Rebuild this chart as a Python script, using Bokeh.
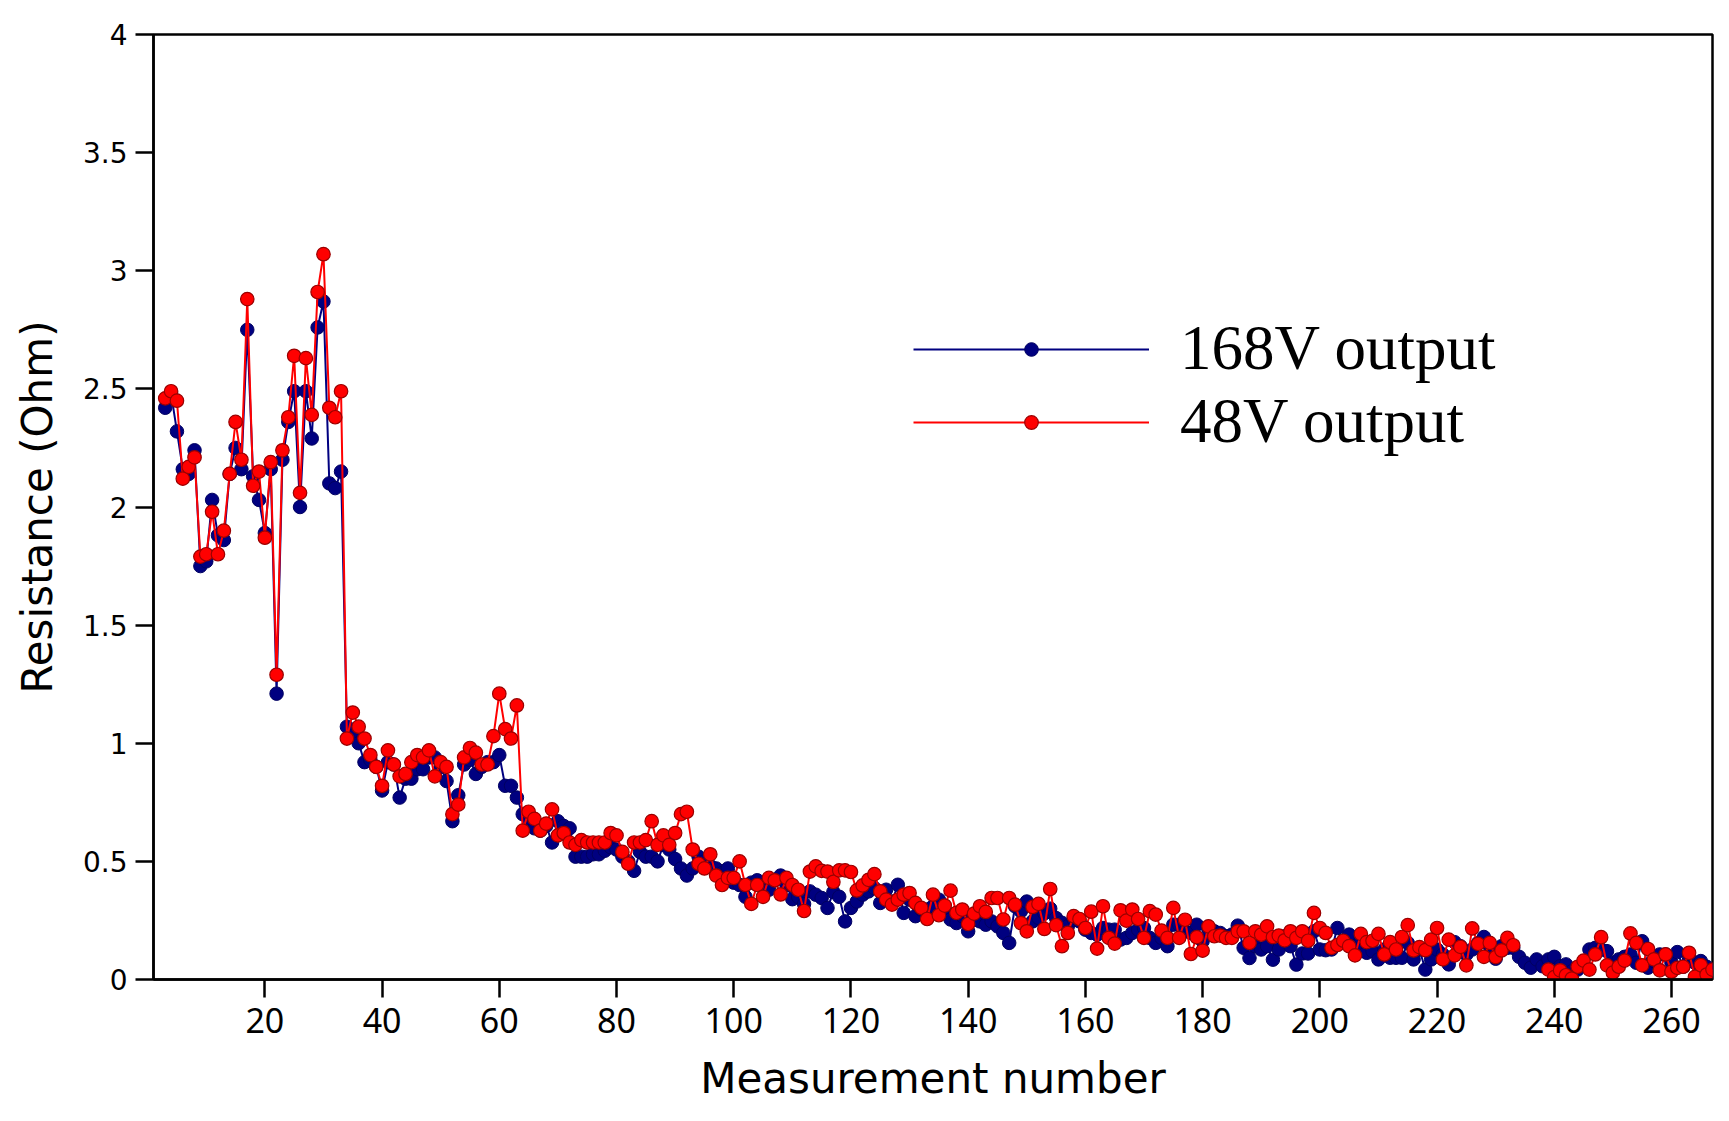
from bokeh.plotting import figure
from bokeh.models import (ColumnDataSource, Legend, LegendItem, FixedTicker,
                          CustomJSTickFormatter, Range1d)
from bokeh.embed import file_html
from bokeh.resources import INLINE

measurement = list(range(3, 268))

v168 = [
    # 3-33
    2.42, 2.48, 2.32, 2.16, 2.14, 2.24, 1.75, 1.77, 2.03, 1.88, 1.86, 2.14, 2.25, 2.16, 2.75, 2.13,
    2.03, 1.89, 2.16, 1.21, 2.20, 2.36, 2.49, 2.00, 2.49, 2.29, 2.76, 2.87, 2.10, 2.08, 2.15,
    # 34-63
    1.07, 1.03, 1.00, 0.92, 0.93, 0.90, 0.80, 0.92, 0.91, 0.77, 0.85, 0.85, 0.89, 0.89, 0.94,
    0.94, 0.90, 0.84, 0.67, 0.78, 0.91, 0.93, 0.87, 0.90, 0.92, 0.92, 0.95, 0.82, 0.82, 0.77,
    # 64-71
    0.70, 0.68, 0.64, 0.63, 0.65, 0.58, 0.67, 0.65,
    # 72-112
    0.64, 0.52, 0.52, 0.52, 0.53, 0.53, 0.545, 0.56, 0.55, 0.52, 0.50, 0.46, 0.54, 0.52, 0.52,
    0.50, 0.57, 0.55, 0.51, 0.47, 0.44, 0.47, 0.52, 0.50, 0.48, 0.47, 0.45, 0.47, 0.41, 0.40,
    0.35, 0.41, 0.42, 0.40, 0.38, 0.42, 0.44, 0.40, 0.34, 0.35, 0.32,
    # 113-155
    0.373, 0.359, 0.345, 0.303, 0.37, 0.35, 0.246, 0.303, 0.33, 0.359, 0.373, 0.387, 0.324,
    0.38, 0.33, 0.401, 0.282, 0.338, 0.268, 0.296, 0.296, 0.31, 0.338, 0.296, 0.254, 0.239,
    0.268, 0.204, 0.254, 0.246, 0.232, 0.246, 0.225, 0.197, 0.155, 0.31, 0.289, 0.33, 0.246,
    0.261, 0.28, 0.30, 0.26,
    # 156-196
    0.24, 0.225, 0.253, 0.246, 0.211, 0.197, 0.19, 0.218, 0.211, 0.211, 0.169, 0.176, 0.197,
    0.211, 0.218, 0.176, 0.155, 0.176, 0.141, 0.232, 0.232, 0.204, 0.197, 0.232, 0.162, 0.211,
    0.204, 0.197, 0.183, 0.19, 0.228, 0.134, 0.091, 0.141, 0.127, 0.141, 0.084, 0.127, 0.183,
    0.141, 0.063,
    # 197-233
    0.11, 0.11, 0.204, 0.127, 0.124, 0.127, 0.218, 0.16, 0.19, 0.141, 0.176, 0.113, 0.12,
    0.085, 0.127, 0.092, 0.092, 0.092, 0.155, 0.085, 0.127, 0.042, 0.085, 0.127, 0.106, 0.064,
    0.158, 0.141, 0.106, 0.127, 0.155, 0.18, 0.141, 0.088, 0.141, 0.134, 0.134,
    # 234-238
    0.096, 0.071, 0.05, 0.085, 0.056,
    # 239-267
    0.085, 0.096, 0.056, 0.064, 0.035, 0.042, 0.064, 0.127, 0.134, 0.127, 0.12, 0.071, 0.085,
    0.096, 0.106, 0.071, 0.162, 0.05, 0.078, 0.106, 0.106, 0.071, 0.116, 0.054, 0.092, 0.071,
    0.078, 0.054, 0.035,
]

v48 = [
    # 3-33
    2.46, 2.49, 2.45, 2.12, 2.17, 2.21, 1.79, 1.80, 1.98, 1.80, 1.90, 2.14, 2.36, 2.20, 2.88, 2.09,
    2.15, 1.87, 2.19, 1.29, 2.24, 2.38, 2.64, 2.06, 2.63, 2.39, 2.91, 3.07, 2.42, 2.38, 2.49,
    # 34-63
    1.02, 1.13, 1.07, 1.02, 0.95, 0.90, 0.82, 0.97, 0.91, 0.86, 0.87, 0.92, 0.95, 0.94, 0.97,
    0.86, 0.92, 0.90, 0.70, 0.74, 0.94, 0.98, 0.96, 0.91, 0.91, 1.03, 1.21, 1.06, 1.02, 1.16,
    # 64-71
    0.63, 0.71, 0.68, 0.63, 0.66, 0.72, 0.61, 0.62,
    # 72-112
    0.58, 0.57, 0.59, 0.58, 0.58, 0.58, 0.58, 0.62, 0.61, 0.54, 0.49, 0.58, 0.58, 0.59, 0.67,
    0.57, 0.61, 0.57, 0.62, 0.70, 0.71, 0.55, 0.49, 0.47, 0.53, 0.44, 0.40, 0.43, 0.43, 0.50,
    0.40, 0.32, 0.40, 0.35, 0.43, 0.42, 0.36, 0.43, 0.40, 0.38, 0.29,
    # 113-155
    0.457, 0.479, 0.46, 0.457, 0.413, 0.462, 0.462, 0.455, 0.377, 0.398, 0.422, 0.446, 0.373,
    0.338, 0.317, 0.338, 0.359, 0.366, 0.324, 0.303, 0.256, 0.359, 0.272, 0.313, 0.376, 0.282,
    0.296, 0.235, 0.279, 0.31, 0.286, 0.345, 0.345, 0.254, 0.345, 0.317, 0.239, 0.204, 0.307,
    0.32, 0.214, 0.383, 0.23,
    # 156-196
    0.141, 0.197, 0.268, 0.256, 0.218, 0.287, 0.131, 0.31, 0.176, 0.152, 0.293, 0.249, 0.296,
    0.256, 0.176, 0.289, 0.275, 0.207, 0.176, 0.303, 0.176, 0.253, 0.108, 0.179, 0.122, 0.225,
    0.183, 0.186, 0.176, 0.176, 0.204, 0.204, 0.155, 0.204, 0.19, 0.225, 0.18, 0.186, 0.166,
    0.204, 0.176,
    # 197-233
    0.204, 0.164, 0.282, 0.218, 0.197, 0.134, 0.146, 0.164, 0.141, 0.102, 0.193, 0.158, 0.164,
    0.193, 0.106, 0.158, 0.127, 0.18, 0.23, 0.123, 0.137, 0.124, 0.169, 0.218, 0.085, 0.169,
    0.102, 0.138, 0.06, 0.216, 0.151, 0.096, 0.155, 0.095, 0.123, 0.176, 0.145,
    # 234-238 (not visible)
    float("nan"), float("nan"), float("nan"), float("nan"), float("nan"),
    # 239-267
    0.042, 0.01, 0.039, 0.018, 0.004, 0.054, 0.08, 0.042, 0.106, 0.179, 0.06, 0.029, 0.054,
    0.08, 0.195, 0.155, 0.06, 0.129, 0.085, 0.039, 0.106, 0.033, 0.049, 0.054, 0.113, 0.011,
    0.061, 0.021, 0.042,
]

x_ticks = [20, 40, 60, 80, 100, 120, 140, 160, 180, 200, 220, 240, 260]
y_ticks = [0, 0.5, 1, 1.5, 2, 2.5, 3, 3.5, 4]
series_labels = ["168V output", "48V output"]

src = ColumnDataSource(dict(x=measurement, b=v168, r=v48))

p = figure(frame_width=1559, frame_height=945,
           min_border_left=153, min_border_right=9, min_border_top=34, min_border_bottom=130,
           x_range=Range1d(1, 267), y_range=Range1d(0, 4),
           output_backend="svg", toolbar_location=None)

p.grid.visible = False
p.outline_line_color = "black"
p.outline_line_width = 2.5
p.background_fill_color = "white"
p.border_fill_color = "white"

for ax in (p.xaxis[0], p.yaxis[0]):
    ax.axis_line_width = 2.5
    ax.major_tick_line_width = 2.5
    ax.major_tick_out = 18
    ax.major_tick_in = 0
    ax.minor_tick_line_color = None
    ax.formatter = CustomJSTickFormatter(code="return tick.toString();")
    ax.axis_label_text_font = "DejaVu Sans"
    ax.axis_label_text_font_style = "normal"
    ax.axis_label_text_font_size = "42px"
    ax.axis_label_text_color = "black"
    ax.major_label_text_color = "black"

p.xaxis[0].ticker = FixedTicker(ticks=x_ticks)
p.yaxis[0].ticker = FixedTicker(ticks=y_ticks)
p.xaxis[0].major_label_text_font = "Noto Sans"
p.xaxis[0].major_label_text_font_size = "34px"
p.xaxis[0].major_label_standoff = 10
p.yaxis[0].major_label_text_font = "DejaVu Sans"
p.yaxis[0].major_label_text_font_size = "28px"
p.yaxis[0].major_label_standoff = 8
p.xaxis[0].axis_label = "Measurement number"
p.yaxis[0].axis_label = "Resistance (Ohm)"
p.xaxis[0].axis_label_standoff = 18
p.yaxis[0].axis_label_standoff = 18

bl = p.line("x", "b", source=src, line_color="#000080", line_width=2)
bs = p.scatter("x", "b", source=src, size=13.5, fill_color="#000080",
               line_color="#000060", line_width=1)
rl = p.line("x", "r", source=src, line_color="#ff0000", line_width=2)
rs = p.scatter("x", "r", source=src, size=13.5, fill_color="#ff0000",
               line_color="#9a0000", line_width=1.2)

legend = Legend(items=[LegendItem(label=series_labels[0], renderers=[bl, bs]),
                       LegendItem(label=series_labels[1], renderers=[rl, rs])],
                location=(760, 521), orientation="vertical",
                glyph_width=236, glyph_height=34, label_height=34, spacing=-4,
                padding=0, margin=0, label_standoff=31,
                border_line_color=None, background_fill_alpha=0,
                label_text_font="Liberation Serif", label_text_font_size="63px",
                label_text_color="black")
p.add_layout(legend, "center")

open("out.html", "w").write(file_html(p, INLINE))
